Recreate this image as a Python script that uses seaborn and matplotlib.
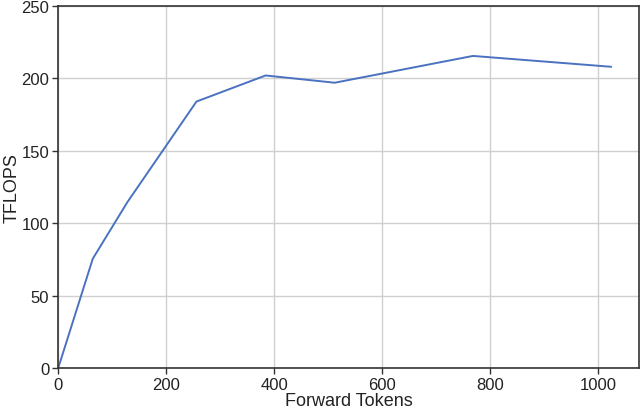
import numpy as np
import pandas as pd
import seaborn as sns
import matplotlib.pyplot as plt

tokens = [0, 64, 128, 256, 384, 512, 768, 1024]
tflops = [0, 75.5, 114.5, 184, 202, 197, 215.5, 208]

df = pd.DataFrame({"Forward Tokens": tokens, "TFLOPS": tflops})

sns.set_theme(style="whitegrid", rc={
    "axes.edgecolor": "#333333", "grid.color": "#d0d0d0",
})
plt.rcParams["font.family"] = ["Liberation Sans", "DejaVu Sans"]

fig, ax = plt.subplots(figsize=(6.4, 4.1), dpi=100)
fig.subplots_adjust(left=0.091, right=0.998, top=0.983, bottom=0.1)

sns.lineplot(data=df, x="Forward Tokens", y="TFLOPS", ax=ax, color="#4a72c0", linewidth=1.4)

ax.set_xlim(0, 1075)
ax.set_ylim(0, 250)
ax.set_xticks([0, 200, 400, 600, 800, 1000])
ax.set_yticks([0, 50, 100, 150, 200, 250])
ax.tick_params(axis="both", which="major", direction="out", length=4, width=1,
               color="#333333", bottom=True, left=True,
               labelsize=12, labelcolor="#222222", pad=2.5)
ax.set_xlabel("Forward Tokens", fontsize=13, color="#222222")
ax.set_ylabel("TFLOPS", fontsize=13, color="#222222")
ax.yaxis.set_label_coords(-0.065, 0.5)
ax.xaxis.set_label_coords(0.5, -0.065)
for s in ax.spines.values():
    s.set_linewidth(1.2)

plt.savefig("out.png")
